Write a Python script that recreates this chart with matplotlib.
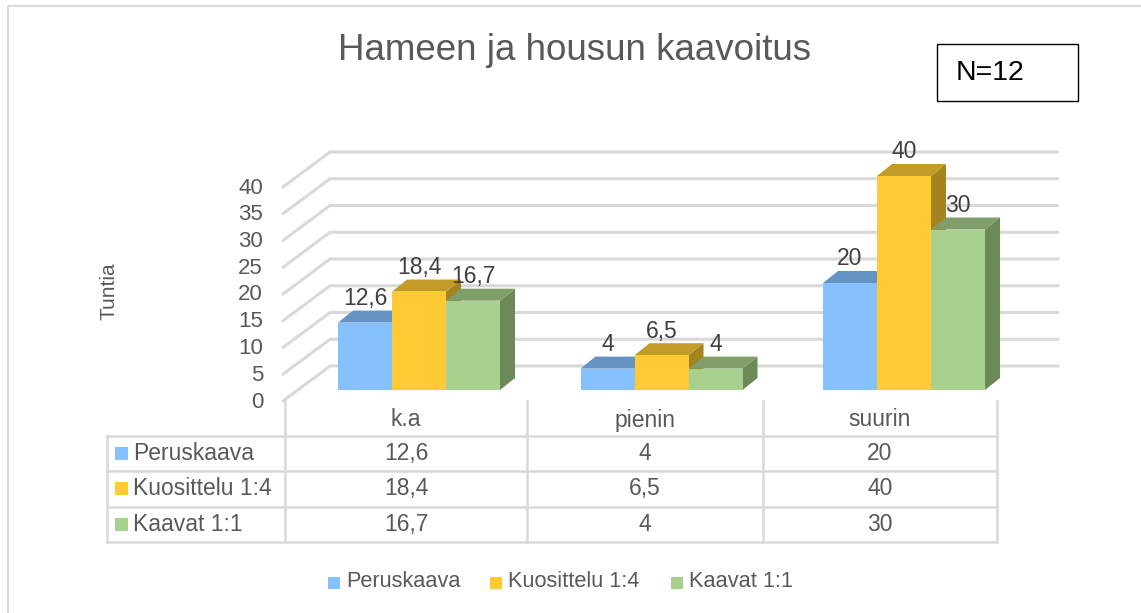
import matplotlib
matplotlib.use("Agg")
import matplotlib.pyplot as plt
from matplotlib.patches import Polygon, Rectangle
import numpy as np

plt.rcParams['font.family'] = ['Liberation Sans', 'DejaVu Sans']

# ---------------- data ----------------
title = "Hameen ja housun kaavoitus"
categories = ["k.a", "pienin", "suurin"]
series_names = ["Peruskaava", "Kuosittelu 1:4", "Kaavat 1:1"]
peruskaava = [12.6, 4, 20]
kuosittelu = [18.4, 6.5, 40]
kaavat = [16.7, 4, 30]
y_ticks = [0, 5, 10, 15, 20, 25, 30, 35, 40]
y_label = "Tuntia"
n_label = "N=12"

series_values = [peruskaava, kuosittelu, kaavat]
front_cols = ['#85C1FF', '#FFCA33', '#A9D18E']
top_cols = ['#6593C4', '#C39C28', '#7F9E6A']
side_cols = ['#5583B3', '#A5831E', '#6C8958']

TXT = '#595959'
GRID = '#D9D9D9'

def fmt(v):
    s = ('%g' % v)
    return s.replace('.', ',')

W, H = 1141, 613
fig = plt.figure(figsize=(W / 100, H / 100), dpi=100)

# layout axes in pixel coordinates
lay = fig.add_axes([0, 0, 1, 1])
lay.set_xlim(0, W)
lay.set_ylim(H, 0)
lay.axis('off')

# outer chart border (only top/left visible)
lay.add_patch(Rectangle((8, 6), 1150, 620, fill=False, ec=GRID, lw=1.5))

# title
lay.text(575, 50, title, ha='center', va='center', fontsize=26.5, color=TXT)

# N box
lay.add_patch(Rectangle((937, 44), 141, 56.5, fill=False, ec='black', lw=1))
lay.text(956, 72.5, n_label, ha='left', va='center', fontsize=20.5, color='black')

# y axis title
lay.text(109, 291, y_label, rotation=90, ha='center', va='center', fontsize=15, color=TXT)

# ---------------- bar axes ----------------
px_per_cat = 242.5
cat0_px = 419.0
px_per_unit = 5.35
base_px = 390.0
xlo, xhi = -0.75, 2.75
ylo, yhi = -5.0, 48.0
left_px = cat0_px + px_per_cat * xlo
right_px = cat0_px + px_per_cat * xhi
top_px = base_px - px_per_unit * yhi
bot_px = base_px - px_per_unit * ylo
ax = fig.add_axes([left_px / W, (H - bot_px) / H, (right_px - left_px) / W, (bot_px - top_px) / H])
ax.set_xlim(xlo, xhi)
ax.set_ylim(ylo, yhi)
ax.axis('off')
ax.patch.set_alpha(0)

def dx_px(p):
    return p / px_per_cat

def dy_px(p):
    return p / px_per_unit

# wall geometry (converted from pixel offsets)
wall_back_dy = dy_px(390 - 366)
wall_front_dy = dy_px(390 - 401)
wall_front_x = dx_px(283 - cat0_px)
wall_back_x = dx_px(330 - cat0_px)
wall_right_x = dx_px(1058 - cat0_px)

for v in y_ticks:
    ax.plot([wall_front_x, wall_back_x, wall_right_x],
            [v + wall_front_dy, v + wall_back_dy, v + wall_back_dy],
            color=GRID, lw=2.2, solid_capstyle='round', zorder=1)
    ax.text(dx_px(263 - cat0_px), v + wall_front_dy + dy_px(-1), str(v), ha='right', va='center',
            fontsize=16, color=TXT)

# bars
bw = 54 / px_per_cat
ddx = dx_px(15)
ddy = dy_px(12)
x = np.arange(len(categories))
for i in range(len(categories)):
    for k, vals in enumerate(series_values):
        h = vals[i]
        cx = x[i] + (k - 1) * bw
        x0, x1 = cx - bw / 2, cx + bw / 2
        z = 3 + k
        ax.add_patch(Polygon([(x1, 0), (x1, h), (x1 + ddx, h + ddy), (x1 + ddx, ddy)],
                             closed=True, fc=side_cols[k], ec='none', zorder=z))
        ax.add_patch(Polygon([(x0, h), (x1, h), (x1 + ddx, h + ddy), (x0 + ddx, h + ddy)],
                             closed=True, fc=top_cols[k], ec='none', zorder=z))
        ax.bar(cx, h, width=bw, color=front_cols[k], edgecolor='none', zorder=z)
        ax.text(cx, h + 4.5, fmt(h), ha='center', va='center', fontsize=16.5,
                color='#404040', zorder=10)

# ---------------- data table ----------------
col_x = [285, 527, 763, 997]
row_y = [435.7, 471, 506.7, 541.7]
tl = 107
for yy in row_y:
    lay.plot([tl, col_x[-1]], [yy, yy], color=GRID, lw=1.8)
lay.plot([tl, tl], [row_y[0], row_y[-1]], color=GRID, lw=1.8)
for xx in col_x:
    lay.plot([xx, xx], [401, row_y[-1]], color=GRID, lw=1.8)

for i, c in enumerate(categories):
    cxp = (col_x[i] + col_x[i + 1]) / 2
    lay.text(cxp, 420, c, ha='center', va='center', fontsize=16.5, color=TXT)
    for k, vals in enumerate(series_values):
        ry = (row_y[k] + row_y[k + 1]) / 2
        lay.text(cxp, ry, fmt(vals[i]), ha='center', va='center', fontsize=16.5, color=TXT)

for k, name in enumerate(series_names):
    ry = (row_y[k] + row_y[k + 1]) / 2
    lay.add_patch(Rectangle((115, ry - 6.5), 13, 13, fc=front_cols[k], ec='none'))
    lay.text(133, ry, name, ha='left', va='center', fontsize=16.5, color=TXT)

# ---------------- legend ----------------
leg_x = [328, 490, 671]
for k, name in enumerate(series_names):
    lay.add_patch(Rectangle((leg_x[k], 577), 12, 12, fc=front_cols[k], ec='none'))
    lay.text(leg_x[k] + 18, 581.5, name, ha='left', va='center', fontsize=15.7, color=TXT)

fig.savefig('out.png', dpi=100)
